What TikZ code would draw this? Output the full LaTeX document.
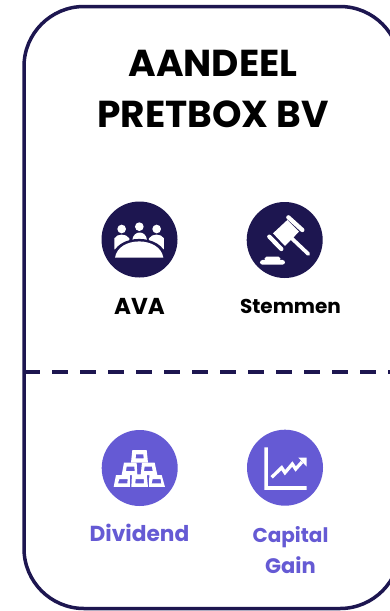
\documentclass[tikz,border=0pt]{standalone}
\usepackage{fontspec}
\setmainfont{Poppins}[BoldFont=Poppins Bold]
\definecolor{navy}{HTML}{1D1650}
\definecolor{violet}{HTML}{655AD4}
\newcommand{\fsz}[1]{\fontsize{#1}{#1}\selectfont\bfseries}
\tikzset{
  disc/.style={circle,minimum size=76pt,inner sep=0pt,fill=#1},
  title/.style={anchor=base,font=\fsz{37.5},text=black,inner sep=0pt},
  darklabel/.style={anchor=base,font=\fsz{#1},text=black,inner sep=0pt},
  lightlabel/.style={anchor=base,font=\fsz{#1},text=violet,inner sep=0pt},
  frame/.style={draw=navy,line width=3.5pt},
  divider/.style={draw=navy,line width=4pt,dash pattern=on 16pt off 12pt},
  icon/.style={x=0.3333pt,y=-0.3333pt},
  ink/.style={fill=white,draw=none}
}
\begin{document}
\begin{tikzpicture}[x=1pt,y=-1pt]
\useasboundingbox (0,0) rectangle (390,611);
\clip (0,0) rectangle (390,611);
\fill[white] (0,0) rectangle (390,611);
\draw[frame,rounded corners=60pt] (24,6.5) rectangle (400,608.5);
\coordinate (divL) at (24,371.7);
\coordinate (divR) at (390,371.7);
\draw[divider] (divL) -- (divR);
\node[title] (t1) at (213,76) {AANDEEL};
\node[title] (t2) at (213,127) {PRETBOX BV};
\node[disc=navy] (ava) at (139.5,239.5) {};
\node[disc=navy] (stem) at (284.7,240) {};
\node[disc=violet] (div) at (139.7,468) {};
\node[disc=violet] (cap) at (285,467.7) {};
\node[darklabel=23] (lava) at (139.5,314) {AVA};
\node[darklabel=20] (lstem) at (290.5,313) {Stemmen};
\node[lightlabel=21.7] (ldiv) at (139.5,541) {Dividend};
\node[lightlabel=20] (lcap) at (290.5,542) {Capital};
\node[lightlabel=21] (lgain) at (290.5,573) {Gain};
% AVA icon
\begin{scope}[shift={(80,190)},icon]
 \fill[ink] (125,117) circle (13) (178,110) circle (13) (230,117) circle (13);
 \fill[ink] (103,178) -- (103,145) .. controls (112,130) and (138,130) .. (148,145) -- (148,178) -- cycle;
 \fill[ink] (207,178) -- (207,145) .. controls (216,130) and (243,130) .. (252,145) -- (252,178) -- cycle;
 \fill[ink] (157,150) .. controls (160,120) and (198,120) .. (201,150) -- cycle;
 \fill[navy] (96,210) -- (96,203) .. controls (105,128) and (250,128) .. (260,203) -- (260,210) -- cycle;
 \fill[ink] (105,203) .. controls (115,138) and (240,138) .. (250,203) -- cycle;
\end{scope}
% gavel icon
\begin{scope}[shift={(230,190)},icon]
 \fill[ink] (129,130) -- (172,90) -- (207,125) -- (165,168) -- cycle;
 \draw[white,line width=4.3pt,line cap=round] (175,82) -- (217,120);
 \draw[white,line width=4.3pt,line cap=round] (118,140) -- (154,177);
 \draw[white,line width=3.7pt,line cap=round] (180,140) -- (235,192);
 \fill[ink,rounded corners=2.5pt] (90,224) -- (90,210) -- (165,210) -- (165,224) -- cycle;
 \fill[ink,rounded corners=1.5pt] (103,212) -- (105,200) -- (150,200) -- (152,212) -- cycle;
\end{scope}
% gold bars icon
\begin{scope}[shift={(80,420)},icon]
 \fill[ink,even odd rule] (157,90) -- (200,90) -- (204,128) -- (153,128) -- cycle (168,103) -- (190,103) -- (191,115) -- (167,115) -- cycle;
 \fill[ink,even odd rule] (132,128) -- (170,128) -- (172,165) -- (125,165) -- cycle (140,140) -- (163,140) -- (164,153) -- (138,153) -- cycle;
 \fill[ink,even odd rule] (186,128) -- (224,128) -- (232,165) -- (182,165) -- cycle (194,140) -- (216,140) -- (218,153) -- (192,153) -- cycle;
 \fill[ink,even odd rule] (108,165) -- (150,165) -- (150,201) -- (101,201) -- cycle (118,177) -- (143,177) -- (142,190) -- (114,190) -- cycle;
 \fill[ink,even odd rule] (156,163) -- (200,163) -- (204,201) -- (154,201) -- cycle (167,177) -- (192,177) -- (192,190) -- (166,190) -- cycle;
 \fill[ink,even odd rule] (208,165) -- (245,165) -- (255,201) -- (207,201) -- cycle (218,177) -- (242,177) -- (244,190) -- (215,190) -- cycle;
\end{scope}
% chart icon
\begin{scope}[shift={(230,420)},icon]
 \fill[ink] (103,82) -- (114,82) -- (114,198) -- (230,198) -- (230,210) -- (103,210) -- cycle;
 \draw[white,line width=3.3pt,line join=miter] (125,172) -- (155,143) -- (165,158) -- (187,132) -- (197,147) -- (216,126);
 \fill[ink] (205,113) -- (230,113) -- (230,140) -- cycle;
\end{scope}
\end{tikzpicture}
\end{document}
